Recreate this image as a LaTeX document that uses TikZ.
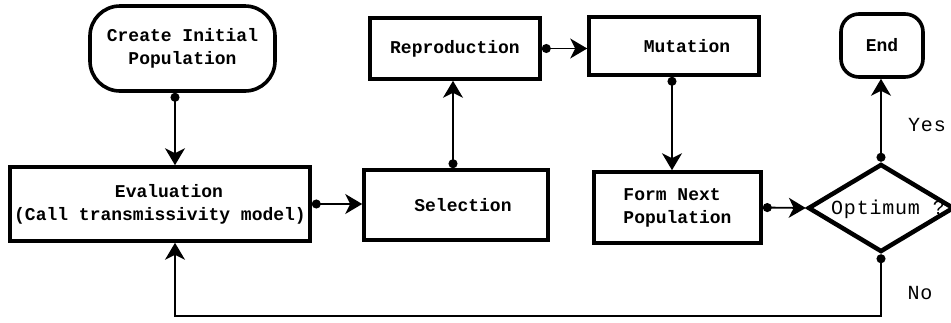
\documentclass[tikz,border=0pt]{standalone}
\usepackage{fontspec}
\setmonofont{Liberation Mono}
\usetikzlibrary{shapes.geometric,arrows.meta}
\begin{document}
\begin{tikzpicture}[x=1pt,y=-1pt,
  box/.style={draw,line width=3.6pt,inner sep=0pt,font=\fontsize{18}{23}\selectfont\ttfamily\bfseries,align=center},
  tipstyle/.style={{Circle[length=9pt]}-{Stealth[length=17pt,width=20pt,inset=5pt]}},
  conn/.style={line width=1.8pt,tipstyle},
  lab/.style={font=\fontsize{20}{24}\selectfont\ttfamily\addfontfeature{LetterSpace=4}}]
\useasboundingbox (0,0) rectangle (951,322);
\clip (0,0) rectangle (951,322);
\node[box,rounded corners=30pt,minimum width=185pt,minimum height=85pt] (init) at (182.5,48.5) {Create Initial\\Population};
\node[box,minimum width=300pt,minimum height=74pt] (eval) at (160,204) {\hspace*{18pt}Evaluation\\(Call transmissivity model)};
\node[box,minimum width=184pt,minimum height=70pt] (sel) at (456,205) {\hspace*{14pt}Selection};
\node[box,minimum width=170pt,minimum height=61pt] (rep) at (455,48.5) {Reproduction};
\node[box,minimum width=170pt,minimum height=58pt] (mut) at (674,46) {\hspace*{26pt}Mutation};
\node[box,minimum width=167pt,minimum height=71pt,align=left] (form) at (677.5,207.5) {Form Next\\Population};
\node[box,rounded corners=18pt,minimum width=82pt,minimum height=63pt] (end) at (882,45.5) {End};
\node[draw,diamond,line width=4.5pt,inner sep=0pt,shape aspect=1.6,minimum width=146pt,minimum height=88pt] (opt) at (881,208) {};
\node[lab] (optlab) at (888,209) {Optimum ?};
\node[lab] (yes) at (927,125) {Yes};
\node[lab] (no) at (920,293) {No};
\coordinate (lx) at (175,0);
\coordinate (fb) at (0,316);
\draw[conn] (init.south -| lx) -- (eval.north -| lx);
\draw[conn] (eval.east) -- (eval.east -| sel.west);
\draw[conn] (sel.north -| 453,0) -- (rep.south -| 453,0);
\draw[conn] (rep.east) -- (rep.east -| mut.west);
\draw[conn] (mut.south -| 672,0) -- (form.north -| 672,0);
\draw[conn] (form.east) -- (opt.west);
\draw[conn] (opt.north) -- (end.south -| opt.north);
\draw[line width=1.6pt,tipstyle] (opt.south) -- (opt.south |- fb) -- (lx |- fb) -- (lx |- eval.south);
\end{tikzpicture}
\end{document}
